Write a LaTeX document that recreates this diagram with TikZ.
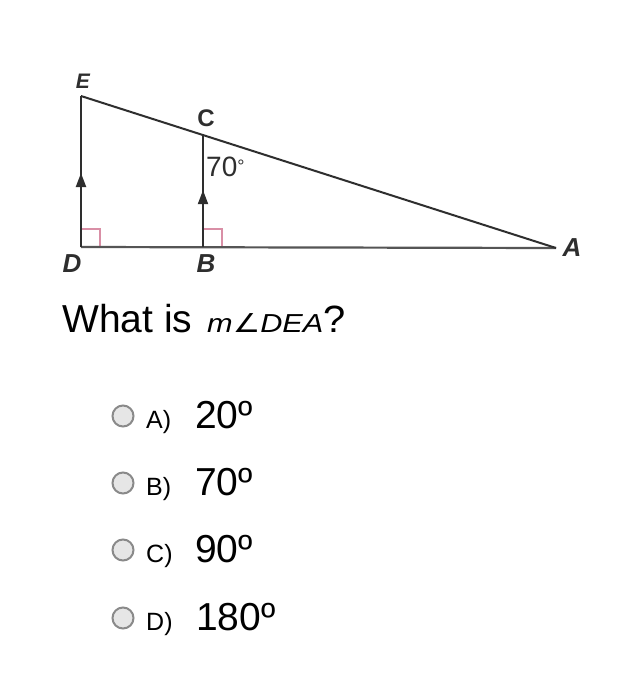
\documentclass[tikz,border=0pt]{standalone}
\usepackage{fontspec}
\setmainfont{Liberation Sans}
\newfontfamily\djv{DejaVu Sans}
\usetikzlibrary{arrows.meta,decorations.markings}
\definecolor{linec}{HTML}{2E2E2E}
\definecolor{basec}{HTML}{555555}
\definecolor{pinkc}{HTML}{D98FA6}
\definecolor{radioc}{HTML}{8A8A8A}
\definecolor{radiof}{HTML}{E6E6E6}
\tikzset{
  seg/.style={draw=linec, line width=2pt},
  baseseg/.style={draw=basec, line width=2.2pt},
  rightang/.style={draw=pinkc, line width=1.2pt},
  lbl/.style={inner sep=0pt, font=\fontsize{26}{26}\selectfont\bfseries\itshape, text=linec},
  radio/.style={circle, draw=radioc, fill=radiof, line width=2pt, minimum size=21pt, inner sep=0pt},
  optletter/.style={inner sep=0pt, anchor=base west, font=\fontsize{25}{25}\selectfont},
  optval/.style={inner sep=0pt, anchor=base west, font=\fontsize{39}{39}\selectfont},
  parmark/.style={postaction={decorate}, decoration={markings, mark=at position #1 with {\arrow{Triangle[length=14pt,width=10pt]}}}}
}
\begin{document}
\begin{tikzpicture}[x=1pt,y=-1pt]
\useasboundingbox[fill=white] (0,0) rectangle (631,697);
% points
\coordinate (E) at (81,96);
\coordinate (D) at (81,247);
\coordinate (B) at (203,247);
\coordinate (C) at (203,135.5);
\coordinate (A) at (556,248);
% right-angle marks
\draw[rightang] (81,229) -- (100,229) -- (100,247);
\draw[rightang] (203,229) -- (222,229) -- (222,247);
% lines
\draw[baseseg] (D) -- (A);
\draw[seg, parmark=0.49] (D) -- (E);
\draw[seg, parmark=0.51] (B) -- (C);
\draw[seg] (E) -- (A);
% labels
\node[lbl, font=\fontsize{21}{21}\selectfont\bfseries\itshape] (lE) at (83,81.5) {E};
\node[lbl, font=\fontsize{24}{24}\selectfont\bfseries] (lC) at (206,118) {C};
\node[lbl] (lD) at (72,264) {D};
\node[lbl] (lB) at (206,264) {B};
\node[lbl] (lA) at (572,248) {A};
\node[inner sep=0pt, anchor=base west, font=\fontsize{28}{28}\selectfont, text=linec] (l70) at (206,176) {70{\fontsize{18}{18}\selectfont\raisebox{0.2em}{°}}};
% question
\node[inner sep=0pt, anchor=base west, font=\fontsize{39}{39}\selectfont] (q1) at (62,332) {What is};
\node[inner sep=0pt, anchor=base west, font=\fontsize{26}{26}\selectfont\itshape] (q2) at (207,332) {\scalebox{1.18}[1]{m{\djv\itshape ∠}DEA}};
\node[inner sep=0pt, anchor=base west, font=\fontsize{38}{38}\selectfont] (q3) at (q2.base east) {\scalebox{1.05}[1]{?}};
% options
\node[radio] (rA) at (123,416) {};
\node[optletter] (tA) at (146,428) {A)};
\node[optval] (vA) at (195,428) {20º};
\node[radio] (rB) at (123,483) {};
\node[optletter] (tB) at (146,495) {B)};
\node[optval] (vB) at (195,495) {70º};
\node[radio] (rC) at (123,550) {};
\node[optletter] (tC) at (146,562) {C)};
\node[optval] (vC) at (195,562) {90º};
\node[radio] (rD) at (123,618) {};
\node[optletter] (tD) at (146,630) {D)};
\node[optval] (vD) at (196,630) {180º};
\end{tikzpicture}
\end{document}
